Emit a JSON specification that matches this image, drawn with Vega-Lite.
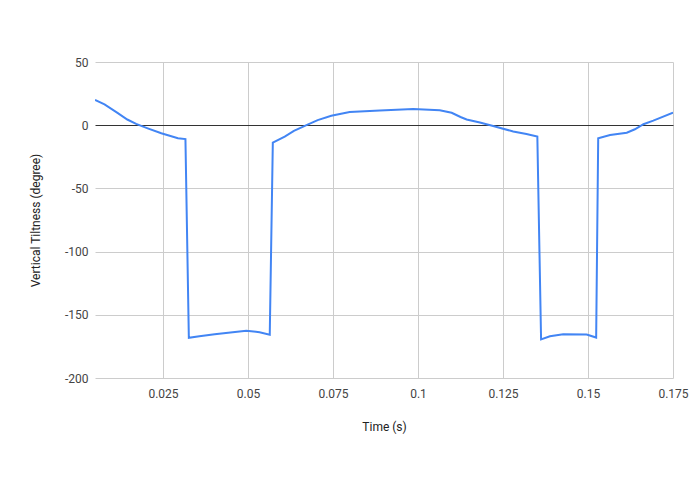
{
  "$schema": "https://vega.github.io/schema/vega-lite/v6.json",
  "description": "Vertical tiltness over time",
  "autosize": "none",
  "padding": {"left": 95, "top": 62, "right": 22, "bottom": 116},
  "width": 578,
  "height": 316,
  "config": {
    "view": {"stroke": null},
    "font": "Roboto",
    "axis": {
      "labelFont": "Roboto",
      "labelFontSize": 12,
      "labelColor": "#444444",
      "titleFont": "Roboto",
      "titleFontSize": 12,
      "titleFontWeight": "normal",
      "titleColor": "#222222",
      "gridColor": "#cccccc",
      "ticks": false,
      "domain": false
    }
  },
  "data": {
    "values": [
      {"t": 0.005, "tilt": 20},
      {"t": 0.0078, "tilt": 16.5},
      {"t": 0.0115, "tilt": 10},
      {"t": 0.0145, "tilt": 4.5},
      {"t": 0.0171, "tilt": 1},
      {"t": 0.0205, "tilt": -2.5},
      {"t": 0.0245, "tilt": -6.4},
      {"t": 0.0294, "tilt": -10.3},
      {"t": 0.0316, "tilt": -11},
      {"t": 0.0326, "tilt": -168.2},
      {"t": 0.0357, "tilt": -167},
      {"t": 0.0402, "tilt": -165.4},
      {"t": 0.0455, "tilt": -163.8},
      {"t": 0.0495, "tilt": -162.6},
      {"t": 0.0534, "tilt": -163.8},
      {"t": 0.0564, "tilt": -165.8},
      {"t": 0.0573, "tilt": -13.8},
      {"t": 0.0608, "tilt": -9},
      {"t": 0.0635, "tilt": -4.5},
      {"t": 0.0672, "tilt": 0},
      {"t": 0.0705, "tilt": 4},
      {"t": 0.0745, "tilt": 7.5},
      {"t": 0.0799, "tilt": 10.5},
      {"t": 0.0888, "tilt": 11.6},
      {"t": 0.0986, "tilt": 12.9},
      {"t": 0.1064, "tilt": 11.8},
      {"t": 0.1099, "tilt": 9.8},
      {"t": 0.1125, "tilt": 6.5},
      {"t": 0.1143, "tilt": 4.5},
      {"t": 0.1182, "tilt": 2.1},
      {"t": 0.1221, "tilt": -0.6},
      {"t": 0.128, "tilt": -5},
      {"t": 0.1319, "tilt": -6.9},
      {"t": 0.1351, "tilt": -9},
      {"t": 0.1362, "tilt": -169.5},
      {"t": 0.1388, "tilt": -167},
      {"t": 0.1427, "tilt": -165.3},
      {"t": 0.1496, "tilt": -165.6},
      {"t": 0.1524, "tilt": -168},
      {"t": 0.153, "tilt": -10.3},
      {"t": 0.1565, "tilt": -7.7},
      {"t": 0.1614, "tilt": -5.9},
      {"t": 0.1638, "tilt": -3.2},
      {"t": 0.1663, "tilt": 0.8},
      {"t": 0.1692, "tilt": 3.6},
      {"t": 0.175, "tilt": 10}
    ]
  },
  "mark": {"type": "line", "color": "#4285f4", "strokeWidth": 2, "clip": true},
  "encoding": {
    "x": {
      "field": "t",
      "type": "quantitative",
      "title": "Time (s)",
      "scale": {"domain": [0.005, 0.175], "nice": false, "zero": false},
      "axis": {
        "values": [0.025, 0.05, 0.075, 0.1, 0.125, 0.15, 0.175],
        "labelExpr": "format(datum.value, '~g')",
        "labelPadding": 10,
        "titlePadding": 22,
        "labelFlush": false
      }
    },
    "y": {
      "field": "tilt",
      "type": "quantitative",
      "title": "Vertical Tiltness (degree)",
      "scale": {"domain": [-200, 50], "nice": false},
      "axis": {
        "values": [-200, -150, -100, -50, 0, 50],
        "labelExpr": "datum.value + ''",
        "labelPadding": 7,
        "titlePadding": 22,
        "gridColor": {
          "condition": {"test": "datum.value === 0", "value": "#333333"},
          "value": "#cccccc"
        }
      }
    }
  }
}
